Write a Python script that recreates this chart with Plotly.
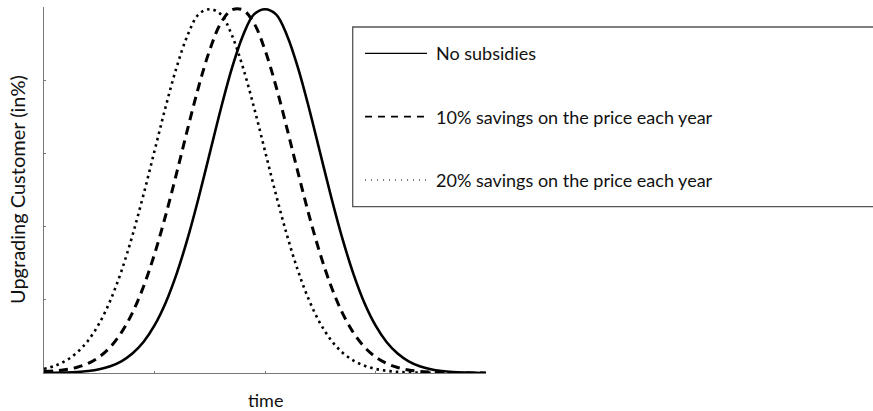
import plotly.graph_objects as go

# time axis positions (arbitrary units, no tick labels shown)
time = [0.0, 0.1, 0.2, 0.3, 0.4, 0.5, 0.6, 0.7, 0.8, 0.9,
        1.0, 1.1, 1.2, 1.3, 1.4, 1.5, 1.6, 1.7, 1.8, 1.9,
        2.0, 2.1, 2.2, 2.3, 2.4, 2.5, 2.6, 2.7, 2.8, 2.9,
        3.0, 3.1, 3.2, 3.3, 3.4, 3.5, 3.6, 3.7, 3.8, 3.9, 4.0]

no_subsidies = [0.001, 0.003, 0.007, 0.014, 0.027, 0.051, 0.092, 0.159, 0.265, 0.423,
                0.650, 0.957, 1.355, 1.839, 2.398, 3.002, 3.607, 4.161, 4.608, 4.899,
                4.970, 4.899, 4.608, 4.161, 3.607, 3.002, 2.398, 1.839, 1.355, 0.957,
                0.650, 0.423, 0.265, 0.159, 0.092, 0.051, 0.027, 0.014, 0.007, 0.003, 0.001]

savings_10 = [0.020, 0.030, 0.048, 0.078, 0.131, 0.220, 0.355, 0.551, 0.822, 1.179,
              1.623, 2.148, 2.730, 3.335, 3.914, 4.412, 4.780, 4.960, 4.960, 4.780,
              4.412, 3.914, 3.335, 2.730, 2.148, 1.623, 1.179, 0.822, 0.551, 0.355,
              0.220, 0.131, 0.075, 0.041, 0.022, 0.011, 0.005, 0.002, 0.001, 0.000, 0.000]

savings_20 = [0.056, 0.099, 0.170, 0.281, 0.445, 0.677, 0.990, 1.390, 1.877, 2.434,
              3.033, 3.631, 4.176, 4.616, 4.901, 4.970, 4.901, 4.616, 4.176, 3.631,
              3.033, 2.434, 1.877, 1.390, 0.990, 0.677, 0.445, 0.281, 0.170, 0.099,
              0.056, 0.030, 0.015, 0.008, 0.004, 0.002, 0.001, 0.000, 0.000, 0.000, 0.000]

series_names = ["No subsidies",
                "10% savings on the price each year",
                "20% savings on the price each year"]

x_ticks = [1, 2, 3]
y_ticks = [1, 2, 3, 4]

FONT = "Lato, 'Open Sans', sans-serif"
AXIS_GREY = "#777777"
TEXT = "#111111"

fig = go.Figure()
fig.add_trace(go.Scatter(x=time, y=no_subsidies, mode="lines", name=series_names[0],
                         line=dict(color="black", width=2.6, shape="spline"),
                         showlegend=False))
fig.add_trace(go.Scatter(x=time, y=savings_10, mode="lines", name=series_names[1],
                         line=dict(color="black", width=3, dash="9px,6px", shape="spline"),
                         showlegend=False))
fig.add_trace(go.Scatter(x=time, y=savings_20, mode="lines", name=series_names[2],
                         line=dict(color="black", width=2.6, dash="2.5px,4px", shape="spline"),
                         showlegend=False))

W, H = 873, 411
ML, MR, MT, MB = 44, 0, 7, 38
PW = W - ML - MR
PH = H - MT - MB


def px_x(px):
    return (px - ML) / PW


def px_y(py):
    return (H - MB - py) / PH


shapes = []
annotations = []

# legend box (extends beyond right edge as in reference)
shapes.append(dict(type="rect", xref="paper", yref="paper",
                   x0=px_x(352.7), x1=px_x(885), y0=px_y(206.7), y1=px_y(27),
                   line=dict(color="#555555", width=1.3), fillcolor="white", layer="above"))

legend_rows = [53.3, 116.7, 180.0]
legend_styles = [dict(width=1.3, dash="solid"),
                 dict(width=1.8, dash="7px,6px"),
                 dict(width=1.2, dash="1px,5px")]
for name, row, st in zip(series_names, legend_rows, legend_styles):
    shapes.append(dict(type="line", xref="paper", yref="paper",
                       x0=px_x(365), x1=px_x(427), y0=px_y(row), y1=px_y(row),
                       line=dict(color="black", width=st["width"], dash=st["dash"]),
                       layer="above"))
    annotations.append(dict(text=name, xref="paper", yref="paper",
                            x=px_x(434), y=px_y(row), xanchor="left", yanchor="middle",
                            showarrow=False, font=dict(family=FONT, size=18, color=TEXT)))

# axis titles
annotations.append(dict(text="time", xref="x", x=2, yref="paper", y=0,
                        xanchor="center", yanchor="middle", yshift=-27,
                        showarrow=False, font=dict(family=FONT, size=18, color=TEXT)))
annotations.append(dict(text="Upgrading Customer (in%)", xref="paper", x=0, xshift=-27,
                        yref="paper", y=0.5, xanchor="center", yanchor="middle",
                        textangle=-90, showarrow=False,
                        font=dict(family=FONT, size=20, color=TEXT)))

fig.update_layout(
    width=W, height=H,
    margin=dict(l=ML, r=MR, t=MT, b=MB, pad=0),
    paper_bgcolor="white", plot_bgcolor="white",
    font=dict(family=FONT, size=18, color=TEXT),
    shapes=shapes, annotations=annotations,
    xaxis=dict(range=[0, 4], domain=[0, (486 - ML) / PW], showline=True,
               linecolor=AXIS_GREY, linewidth=1.3, ticks="inside", ticklen=2,
               tickcolor=AXIS_GREY, tickvals=x_ticks, showticklabels=False,
               showgrid=False, zeroline=False, fixedrange=True),
    yaxis=dict(range=[0, 5], showline=True, linecolor=AXIS_GREY, linewidth=1.3,
               ticks="inside", ticklen=2, tickcolor=AXIS_GREY, tickvals=y_ticks,
               showticklabels=False, showgrid=False, zeroline=False, fixedrange=True),
)

fig.write_html("out.html", config={"displayModeBar": False},
               post_script="document.body.style.margin='0px';document.body.style.overflow='hidden';")
